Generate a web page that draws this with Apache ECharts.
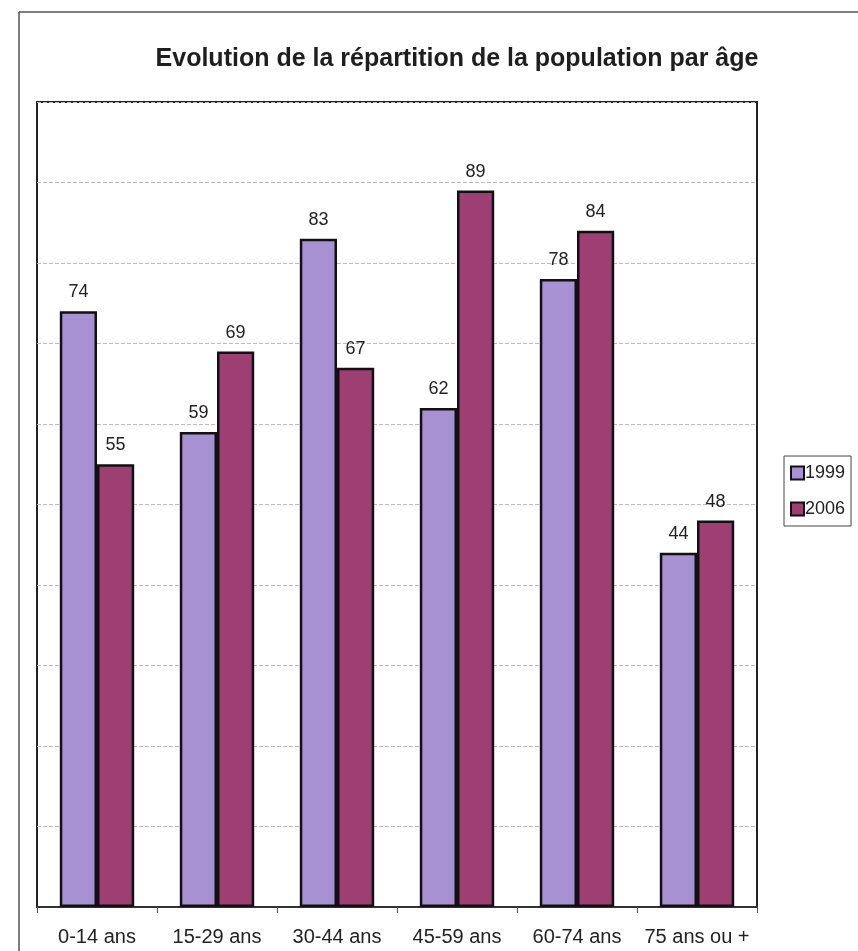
<!DOCTYPE html>
<html>
<head>
<meta charset="utf-8">
<script src="https://cdn.jsdelivr.net/npm/echarts@6/dist/echarts.min.js"></script>
<style>
  html, body { margin: 0; padding: 0; background: #fff; }
  #chart { width: 858px; height: 951px; }
</style>
</head>
<body>
<div id="chart"></div>
<script>
// Age groups and population counts per census year
const categories = ['0-14 ans', '15-29 ans', '30-44 ans', '45-59 ans', '60-74 ans', '75 ans ou +'];
const years = ['1999', '2006'];
const values1999 = [74, 59, 83, 62, 78, 44];
const values2006 = [55, 69, 67, 89, 84, 48];

const FONT = '"Liberation Sans", Arial, sans-serif';
const chart = echarts.init(document.getElementById('chart'));

const labelStyle = {
  show: true,
  position: 'top',
  distance: 10,
  color: '#222',
  fontSize: 18,
  fontFamily: FONT
};

chart.setOption({
  backgroundColor: '#fff',
  animation: false,
  title: {
    text: 'Evolution de la répartition de la population par âge',
    left: 452,
    top: 42,
    textAlign: 'center',
    textStyle: { fontFamily: FONT, fontSize: 25, fontWeight: 'bold', color: '#1e1e1e' }
  },
  legend: {
    data: years,
    orient: 'vertical',
    left: 784,
    top: 456,
    icon: 'rect',
    itemWidth: 13,
    itemHeight: 13,
    itemGap: 18,
    padding: [8, 6, 8, 6],
    borderColor: '#444',
    borderWidth: 1,
    textStyle: { fontFamily: FONT, fontSize: 18, color: '#222', padding: [0, 0, 0, -4] }
  },
  grid: {
    left: 37,
    top: 102,
    width: 720,
    height: 805,
    show: true,
    borderColor: '#222',
    borderWidth: 2,
    containLabel: false
  },
  xAxis: {
    type: 'category',
    data: categories,
    axisLine: { lineStyle: { color: '#333', width: 2 } },
    axisTick: { show: true, length: 6, lineStyle: { color: '#555' } },
    axisLabel: { fontFamily: FONT, fontSize: 20, color: '#222', margin: 20, interval: 0 }
  },
  yAxis: {
    type: 'value',
    min: 0,
    max: 100,
    interval: 10,
    axisLine: { show: false },
    axisTick: { show: false },
    axisLabel: { show: false },
    splitLine: { lineStyle: { color: '#bbb', type: 'dashed', width: 1 } }
  },
  series: [
    {
      name: years[0],
      type: 'bar',
      data: values1999,
      barGap: '0%',
      barCategoryGap: '38%',
      itemStyle: { color: '#a791d2', borderColor: '#111', borderWidth: 2.5 },
      label: labelStyle
    },
    {
      name: years[1],
      type: 'bar',
      data: values2006,
      itemStyle: { color: '#9e3f73', borderColor: '#111', borderWidth: 2.5 },
      label: labelStyle
    }
  ],
  graphic: [
    // outer frame around the whole figure
    { type: 'line', shape: { x1: 19, y1: 12, x2: 858, y2: 12 }, style: { stroke: '#555', lineWidth: 1.5 } },
    { type: 'line', shape: { x1: 19, y1: 12, x2: 19, y2: 951 }, style: { stroke: '#555', lineWidth: 1.5 } }
  ]
});
</script>
</body>
</html>
